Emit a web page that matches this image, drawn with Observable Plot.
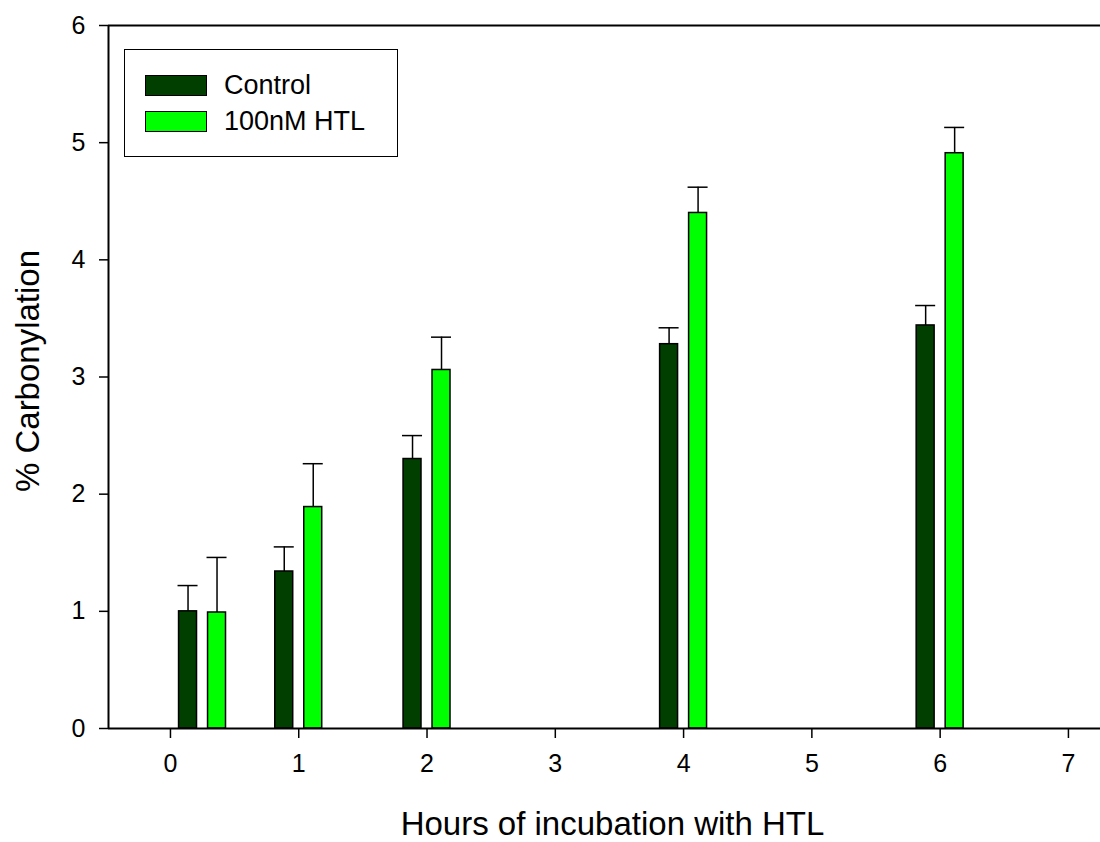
<!DOCTYPE html>
<html><head><meta charset="utf-8">
<script src="https://cdn.jsdelivr.net/npm/d3@7"></script>
<script src="https://cdn.jsdelivr.net/npm/@observablehq/plot@0.6"></script>
<style>
body{margin:0;background:#fff;font-family:"Liberation Sans",Arial,sans-serif;}
#wrap{position:relative;width:1100px;height:842px;overflow:hidden;}
#wrap svg{display:block;}
#wrap svg [aria-label="x-axis tick label"], #wrap svg [aria-label="y-axis tick label"]{font-size:25px;}
.legend{position:absolute;left:124px;top:49px;width:274px;height:108px;border:1.5px solid #000;box-sizing:border-box;background:#fff;}
.row{position:absolute;left:20px;display:flex;align-items:center;font-size:27px;color:#000;}
.sw{width:62px;height:21px;border:1.5px solid #000;box-sizing:border-box;margin-right:17px;}
</style></head><body><div id="wrap"></div>
<script>
const hours = [0.25, 1, 2, 4, 6];
const series = ["Control", "100nM HTL"];
const colors = ["#003f00", "#00ff00"];
const controlMean = [1.00, 1.34, 2.30, 3.28, 3.44];
const controlErr  = [0.22, 0.21, 0.20, 0.14, 0.17];
const htlMean     = [0.99, 1.89, 3.06, 4.40, 4.91];
const htlErr      = [0.47, 0.37, 0.28, 0.22, 0.22];
const xTicks = [0, 1, 2, 3, 4, 5, 6, 7];
const yTicks = [0, 1, 2, 3, 4, 5, 6];
const xLabel = "Hours of incubation with HTL";
const yLabel = "% Carbonylation";

const xDomain = [-0.483, 7.25];
const yDomain = [0, 6];
const offset = 0.113, half = 0.07, cap = 0.078;

const rows = [];
[controlMean, htlMean].forEach((means, s) => {
  const errs = s === 0 ? controlErr : htlErr;
  hours.forEach((h, i) => rows.push({
    series: series[s], pos: h + (s === 0 ? -offset : offset),
    mean: means[i], err: errs[i]
  }));
});

const plot = Plot.plot({
  width: 1100, height: 842,
  marginLeft: 108, marginRight: 0, marginTop: 25, marginBottom: 114,
  style: {fontFamily: "Liberation Sans, Arial, sans-serif", color: "#000", background: "#fff"},
  x: {domain: xDomain},
  y: {domain: yDomain},
  color: {domain: series, range: colors},
  marks: [
    Plot.rect(rows, {x1: d => d.pos - half, x2: d => d.pos + half, y1: 0, y2: "mean",
      fill: "series", stroke: "#000", strokeWidth: 1.5}),
    Plot.ruleX(rows, {x: "pos", y1: "mean", y2: d => d.mean + d.err, stroke: "#000", strokeWidth: 1.5}),
    Plot.ruleY(rows, {y: d => d.mean + d.err, x1: d => d.pos - cap, x2: d => d.pos + cap, stroke: "#000", strokeWidth: 1.5}),
    Plot.ruleY([yDomain[0]], {stroke: "#000", strokeWidth: 2}),
    Plot.ruleY([yDomain[1]], {stroke: "#000", strokeWidth: 2}),
    Plot.ruleX([xDomain[0]], {stroke: "#000", strokeWidth: 2}),
    Plot.axisX(xTicks, {tickSize: 10, tickPadding: 16, fontSize: 25, strokeWidth: 1.5,
      tickFormat: d3.format("d"), label: null}),
    Plot.axisY(yTicks, {tickSize: 9, tickPadding: 14, fontSize: 25, strokeWidth: 1.5,
      tickFormat: d3.format("d"), label: null}),
    Plot.text([xLabel], {frameAnchor: "bottom", dx: 8, dy: 96, fontSize: 33, lineAnchor: "middle", textAnchor: "middle", fill: "#000"}),
    Plot.text([yLabel], {frameAnchor: "left", dx: -80, dy: -6, rotate: -90, fontSize: 33, lineAnchor: "middle", textAnchor: "middle", fill: "#000"})
  ]
});
const wrap = document.getElementById("wrap");
wrap.appendChild(plot);

const legend = document.createElement("div");
legend.className = "legend";
series.forEach((s, i) => {
  const r = document.createElement("div");
  r.className = "row";
  r.style.top = (i === 0 ? 20 : 56) + "px";
  const sw = document.createElement("div");
  sw.className = "sw"; sw.style.background = colors[i];
  const t = document.createElement("span"); t.textContent = s;
  r.appendChild(sw); r.appendChild(t);
  legend.appendChild(r);
});
wrap.appendChild(legend);
</script>
</body></html>
